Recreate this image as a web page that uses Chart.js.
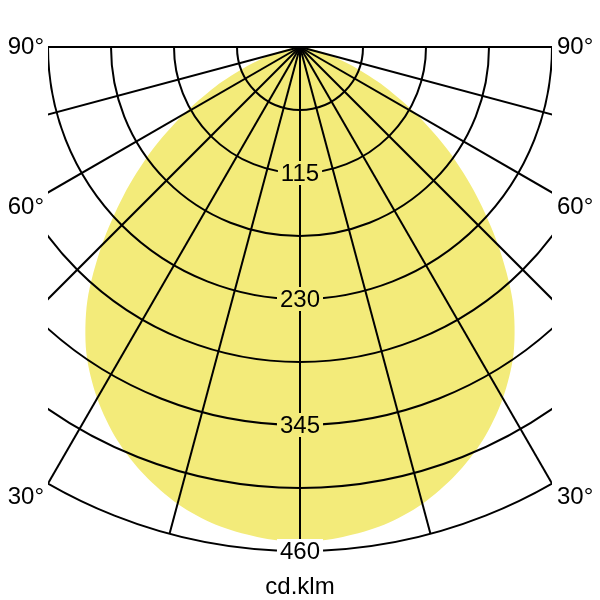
<!DOCTYPE html>
<html>
<head>
<meta charset="utf-8">
<script src="https://cdn.jsdelivr.net/npm/chart.js@4/dist/chart.umd.min.js"></script>
<style>
  body { margin: 0; background: #fff; }
  #wrap { width: 600px; height: 600px; }
</style>
</head>
<body>
<div id="wrap"><canvas id="ldc" width="600" height="600"></canvas></div>
<script>
// 光强分布 (cd/klm), 0° = 正下方, 对称
const angles = [0, 5, 10, 15, 20, 25, 30, 35, 40, 45, 50, 55, 60, 65, 70, 75, 80, 85, 90];
const intensity = [451, 448, 442, 431, 415, 395, 370, 340, 302, 256, 210, 166, 123, 85, 52, 28, 12, 3, 0];

// 网格
const ringValues = [57.5, 115, 172.5, 230, 287.5, 345, 402.5, 460];
const ringLabels = [115, 230, 345, 460];
const spokeAngles = [-90, -75, -60, -45, -30, -15, 0, 15, 30, 45, 60, 75, 90];
const angleLabels = ['90°', '60°', '30°'];
const angleLabelY = [47, 207, 497];
const unitLabel = 'cd.klm';

const FONT = '24px "Liberation Sans", Arial, sans-serif';
const FILL = '#f3eb7a';

// 极坐标 -> 平面坐标
function toXY(deg, r) {
    const a = deg * Math.PI / 180;
    return { x: r * Math.sin(a), y: -r * Math.cos(a) };
}

const curve = [];
for (let i = angles.length - 1; i > 0; i--) curve.push(toXY(-angles[i], intensity[i]));
for (let i = 0; i < angles.length; i++) curve.push(toXY(angles[i], intensity[i]));

const gridPlugin = {
    id: 'polarGrid',
    afterDatasetsDraw(chart) {
        const ctx = chart.ctx;
        const xs = chart.scales.x, ys = chart.scales.y;
        const ca = chart.chartArea;
        const cx = xs.getPixelForValue(0), cy = ys.getPixelForValue(0);
        const k = xs.getPixelForValue(1) - cx;

        // 填充曲线 (用库自己的线段路径)
        const line = chart.getDatasetMeta(0).dataset;
        const shape = new Path2D();
        line.path(shape);
        shape.closePath();
        ctx.save();
        ctx.fillStyle = FILL;
        ctx.fill(shape);
        ctx.restore();

        ctx.save();
        ctx.beginPath();
        ctx.rect(ca.left, ca.top - 3, ca.right - ca.left, ca.bottom - ca.top + 6);
        ctx.clip();
        ctx.strokeStyle = '#000';
        ctx.lineWidth = 2;
        ringValues.forEach(v => {
            ctx.beginPath();
            ctx.arc(cx, cy, v * k, 0, Math.PI);
            ctx.stroke();
        });
        const R = ringValues[ringValues.length - 1] * k;
        spokeAngles.forEach(a => {
            const t = a * Math.PI / 180;
            ctx.beginPath();
            ctx.moveTo(cx, cy);
            ctx.lineTo(cx + R * Math.sin(t), cy + R * Math.cos(t));
            ctx.stroke();
        });
        ctx.restore();

        ctx.save();
        ctx.font = FONT;
        ctx.fillStyle = '#000';
        ctx.textBaseline = 'middle';
        ctx.textAlign = 'center';
        ringLabels.forEach(v => {
            const y = cy + v * k;
            const w = ctx.measureText(String(v)).width + 6;
            ctx.fillStyle = ctx.isPointInPath(shape, cx, y) ? FILL : '#fff';
            ctx.fillRect(cx - w / 2, y - 12, w, 24);
            ctx.fillStyle = '#000';
            ctx.fillText(String(v), cx, y + 1);
        });
        angleLabels.forEach((s, i) => {
            ctx.textAlign = 'right';
            ctx.fillText(s, ca.left - 4, angleLabelY[i]);
            ctx.textAlign = 'left';
            ctx.fillText(s, ca.right + 5, angleLabelY[i]);
        });
        ctx.textAlign = 'center';
        ctx.fillText(unitLabel, cx, 587);
        ctx.restore();
    }
};

new Chart(document.getElementById('ldc'), {
    type: 'scatter',
    data: {
        datasets: [{
            data: curve,
            showLine: true,
            fill: false,
            backgroundColor: FILL,
            borderColor: 'rgba(0,0,0,0)',
            borderWidth: 1,
            pointRadius: 0,
            tension: 0.3
        }]
    },
    options: {
        responsive: false,
        animation: false,
        layout: { padding: { left: 48, right: 48, top: 47, bottom: 48 } },
        scales: {
            x: { type: 'linear', min: -230, max: 230, display: false },
            y: { type: 'linear', min: -460, max: 0, display: false }
        },
        plugins: { legend: { display: false }, tooltip: { enabled: false } }
    },
    plugins: [gridPlugin]
});
</script>
</body>
</html>
